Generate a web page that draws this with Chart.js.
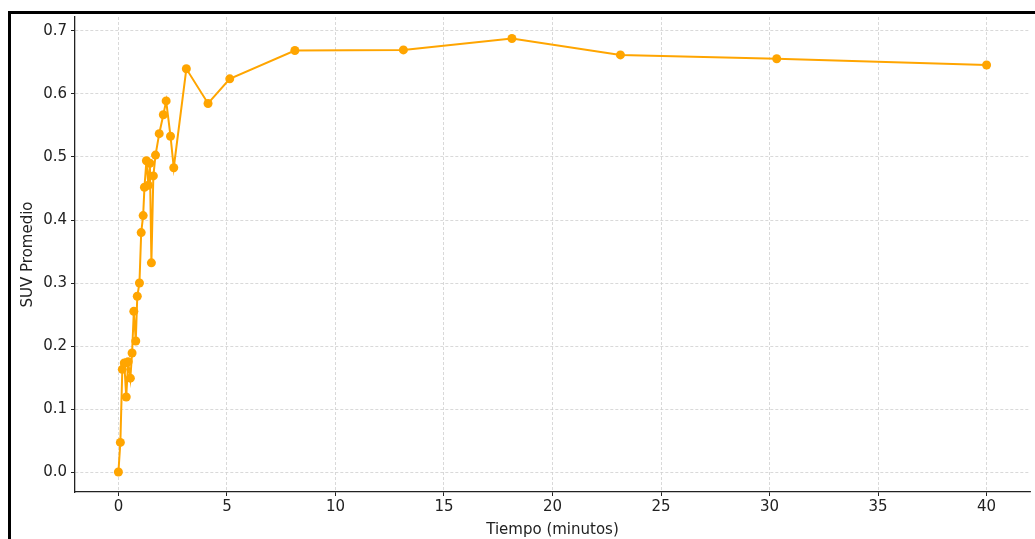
<!DOCTYPE html>
<html>
<head>
<meta charset="utf-8">
<script src="https://cdn.jsdelivr.net/npm/chart.js@4.4.1/dist/chart.umd.min.js"></script>
<style>
  html, body { margin: 0; padding: 0; background: #fff; overflow: hidden; }
  #wrap { position: relative; width: 1035px; height: 539px; }
  #frame {
    position: absolute; left: 8px; top: 11px; width: 1100px; height: 600px;
    border: 3px solid #000; pointer-events: none;
  }
</style>
</head>
<body>
<div id="wrap">
  <canvas id="suvChart" width="1035" height="539"></canvas>
  <div id="frame"></div>
</div>
<script>
// tiempo (min) y SUV promedio
const tiempos = [0, 0.09, 0.18, 0.27, 0.36, 0.45, 0.55, 0.63, 0.71, 0.8, 0.87, 0.97, 1.05, 1.14, 1.2, 1.29, 1.38, 1.45, 1.52, 1.61, 1.71, 1.88, 2.07, 2.2, 2.4, 2.55, 3.13, 4.13, 5.13, 8.13, 13.13, 18.13, 23.13, 30.33, 40];
const suvPromedio = [0.0, 0.047, 0.163, 0.173, 0.119, 0.175, 0.149, 0.189, 0.255, 0.208, 0.279, 0.300, 0.380, 0.407, 0.452, 0.494, 0.455, 0.490, 0.332, 0.470, 0.503, 0.537, 0.567, 0.589, 0.533, 0.483, 0.640, 0.585, 0.624, 0.669, 0.670, 0.688, 0.662, 0.656, 0.646];
const xTicks = [0, 5, 10, 15, 20, 25, 30, 35, 40];
const yTicks = [0.0, 0.1, 0.2, 0.3, 0.4, 0.5, 0.6, 0.7];

const puntos = tiempos.map((t, i) => ({ x: t, y: suvPromedio[i] }));

const gridStyle = {
    color: '#cfcfcf',
    lineWidth: 0.8,
    tickBorderDash: [],
    tickColor: '#222',
    tickLength: 4,
    tickWidth: 1
};
const borderStyle = { display: true, color: '#222', width: 1.3, dash: [3, 2] };
const tickFont = { family: 'DejaVu Sans', size: 15 };

const ctx = document.getElementById('suvChart').getContext('2d');
const chart = new Chart(ctx, {
    type: 'line',
    data: {
        datasets: [{
            data: puntos,
            borderColor: '#FFA500',
            backgroundColor: '#FFA500',
            borderWidth: 2,
            pointRadius: 4.5,
            pointHoverRadius: 4.5,
            pointBorderWidth: 0,
            tension: 0,
            clip: false
        }]
    },
    options: {
        responsive: false,
        animation: false,
        layout: { padding: { left: 19, top: 17, right: 5, bottom: 0 } },
        plugins: { legend: { display: false }, tooltip: { enabled: false } },
        scales: {
            x: {
                type: 'linear',
                min: -2,
                max: 42,
                afterBuildTicks: axis => { axis.ticks = xTicks.map(v => ({ value: v })); },
                afterFit: axis => { axis.height = 47; },
                grid: gridStyle,
                border: borderStyle,
                ticks: { font: tickFont, color: '#222', padding: 2, maxRotation: 0 },
                title: {
                    display: true, text: 'Tiempo (minutos)',
                    font: { family: 'DejaVu Sans', size: 15 }, color: '#222',
                    padding: { top: 1, bottom: 0 }
                }
            },
            y: {
                min: -0.0317,
                max: 0.7222,
                afterBuildTicks: axis => { axis.ticks = yTicks.map(v => ({ value: v })); },
                afterFit: axis => { axis.width = 56; },
                grid: gridStyle,
                border: borderStyle,
                ticks: {
                    font: tickFont, color: '#222', padding: 4,
                    callback: v => v.toFixed(1)
                },
                title: {
                    display: true, text: 'SUV Promedio',
                    font: { family: 'DejaVu Sans', size: 15 }, color: '#222',
                    padding: { top: 0, bottom: 2 }
                }
            }
        }
    }
});
</script>
</body>
</html>
